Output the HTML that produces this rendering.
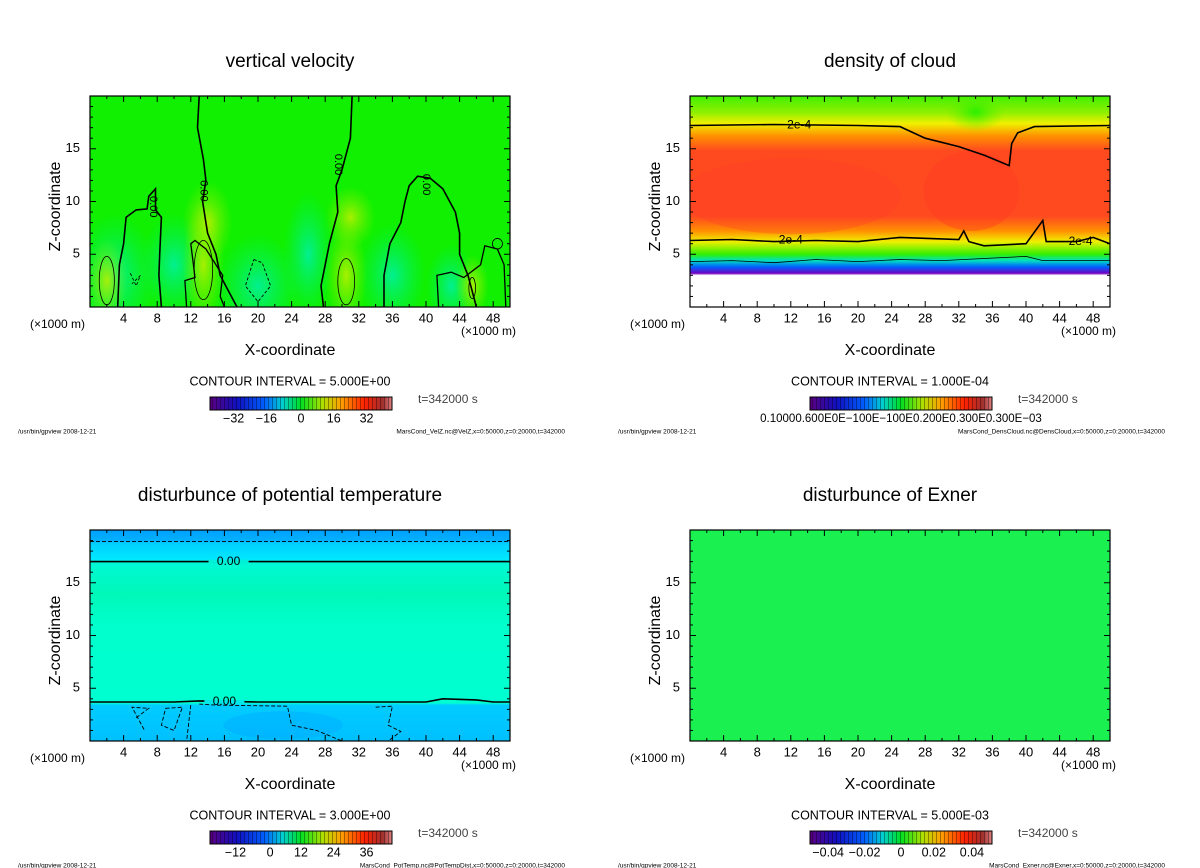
<!DOCTYPE html>
<html><head><meta charset="utf-8"><style>
html,body{margin:0;padding:0;background:#fff;width:1200px;height:868px;overflow:hidden}
svg{display:block;font-family:"Liberation Sans",sans-serif}
</style></head><body>
<svg id="fig" width="1200" height="868" viewBox="0 0 1200 868">
<defs>
<linearGradient id="cbar" x1="0" x2="1" y1="0" y2="0">
<stop offset="0" stop-color="#5a0080"/><stop offset="0.15" stop-color="#1010c0"/><stop offset="0.3" stop-color="#0060ff"/><stop offset="0.4" stop-color="#00d0d0"/><stop offset="0.5" stop-color="#00e020"/><stop offset="0.62" stop-color="#b0e000"/><stop offset="0.72" stop-color="#ffa000"/><stop offset="0.85" stop-color="#ff2000"/><stop offset="0.95" stop-color="#a03030"/><stop offset="1" stop-color="#e08080"/>
</linearGradient>
<pattern id="stripes" width="4" height="20" patternUnits="userSpaceOnUse"><rect x="0" y="0" width="1" height="20" fill="rgba(0,0,0,0.35)"/></pattern>
<linearGradient id="dens" x1="0" x2="0" y1="0" y2="1">
<stop offset="0" stop-color="#40f000"/><stop offset="0.08" stop-color="#90f000"/><stop offset="0.13" stop-color="#f0f000"/><stop offset="0.19" stop-color="#ff9000"/><stop offset="0.26" stop-color="#ff4a20"/><stop offset="0.57" stop-color="#ff4a20"/><stop offset="0.64" stop-color="#ff9000"/><stop offset="0.69" stop-color="#f0f000"/><stop offset="0.75" stop-color="#30f000"/><stop offset="0.78" stop-color="#00e0c0"/><stop offset="0.81" stop-color="#0060ff"/><stop offset="0.84" stop-color="#7000c0"/><stop offset="0.85" stop-color="#ffffff"/><stop offset="1" stop-color="#ffffff"/>
</linearGradient>
<linearGradient id="ptemp" x1="0" x2="0" y1="0" y2="1">
<stop offset="0" stop-color="#00a0ff"/><stop offset="0.05" stop-color="#00b0ff"/><stop offset="0.065" stop-color="#00d0ff"/><stop offset="0.14" stop-color="#00e8ff"/><stop offset="0.15" stop-color="#00f8d8"/><stop offset="0.3" stop-color="#00f8b8"/><stop offset="0.45" stop-color="#00ffcc"/><stop offset="0.82" stop-color="#00ffd0"/><stop offset="0.83" stop-color="#00ccff"/><stop offset="1" stop-color="#00c0ff"/>
</linearGradient>
<radialGradient id="yel"><stop offset="0" stop-color="#b8f000" stop-opacity="0.9"/><stop offset="1" stop-color="#80f000" stop-opacity="0"/></radialGradient>
<radialGradient id="cya"><stop offset="0" stop-color="#00f0a0" stop-opacity="0.9"/><stop offset="1" stop-color="#00f060" stop-opacity="0"/></radialGradient>
<radialGradient id="grn"><stop offset="0" stop-color="#20f000" stop-opacity="0.9"/><stop offset="1" stop-color="#60f000" stop-opacity="0"/></radialGradient>
<clipPath id="c0"><rect x="90" y="96" width="420" height="211"/></clipPath>
<clipPath id="c1"><rect x="690" y="96" width="420" height="211"/></clipPath>
<clipPath id="c2"><rect x="90" y="530" width="420" height="211"/></clipPath>
<clipPath id="c3"><rect x="690" y="530" width="420" height="211"/></clipPath>
</defs>
</svg>
<script>
const xTicks=[4,8,12,16,20,24,28,32,36,40,44,48];
const zTicks=[5,10,15];
const titles=["vertical velocity","density of cloud","disturbunce of potential temperature","disturbunce of Exner"];
const intervals=["5.000E+00","1.000E-04","3.000E+00","5.000E-03"];
const files=["MarsCond_VelZ.nc@VelZ","MarsCond_DensCloud.nc@DensCloud","MarsCond_PotTemp.nc@PotTempDist","MarsCond_Exner.nc@Exner"];
const cbLabels=[["-32","-16","0","16","32"],["0.10000.600E0E-100E-100E0.200E0.300E0.300E-03"],["-12","0","12","24","36"],["-0.04","-0.02","0","0.02","0.04"]];
const cbLabelPos=[[0.13,0.31,0.5,0.68,0.86],[0.5],[0.14,0.33,0.5,0.68,0.86],[0.1,0.3,0.5,0.68,0.89]];
const velLines=[
 [[13,20],[12.8,17],[13.5,14],[13.8,12],[13.4,10],[14,7],[15,5],[15.5,3],[16.5,1.5],[17.5,0]],
 [[31.2,20],[31,16],[30,13],[29.3,11.5],[29.5,9],[28.5,6],[28,4],[27.5,2],[27.8,0]],
 [[8.5,0],[8.2,3],[8.3,5],[8.5,8.5],[7.8,9.2],[7.8,11.2],[7,10.5],[6.8,9.3],[5.5,9.2],[4.3,8.5],[4,6],[3.5,4],[3.3,0]],
 [[35,0],[35,3],[35.7,6],[37,8],[37.5,10],[38,11.5],[39,12.4],[40.5,12.2],[42,11.2],[43.5,9],[44,7],[44,5],[45,3],[46,0]],
 [[11.5,0],[11.3,2.5],[12.5,2.8],[12,6],[12.5,6.3],[13.8,5.5],[15.8,3],[15.5,1],[16,0]],
 [[41.5,0],[41.3,3],[43,3.3],[44.5,2.8],[46.5,4],[47,5.8],[48.5,5.5],[49.3,4],[49.5,0]]
];
const velEll=[[2,2.5,0.9,2.3],[13.5,3.5,1.1,2.8],[30.5,2.4,1,2.2],[45.5,1.8,0.4,1],[48.5,6,0.6,0.5]];
const densUpper=[[0,17.2],[10,17.3],[20,17.2],[25,17.1],[28,16],[32,15.2],[35,14.4],[38,13.4],[38.3,15.5],[39,16.5],[41,17.1],[50,17.2]];
const densLower=[[0,6.3],[5,6.4],[10,6.2],[15,6.3],[20,6.2],[25,6.6],[32,6.4],[32.6,7.2],[33.2,6.2],[35,5.8],[40,6.0],[42,8.2],[42.4,6.2],[46,6.2],[48,6.6],[50,6.0]];
const densThin=[[0,4.3],[5,4.4],[10,4.2],[15,4.5],[20,4.3],[25,4.5],[30,4.4],[35,4.6],[40,4.8],[42,4.4],[50,4.4]];
const tempLower=[[0,3.7],[10,3.7],[13,3.8],[20,3.7],[30,3.7],[40,3.7],[42,4.0],[46,3.9],[48,3.7],[50,3.7]];
const tempDash=[[13,3.5],[15,3.4],[23.5,3.3],[24,1.5],[27,1],[30,0]];

const svg=document.getElementById('fig');
const NS='http://www.w3.org/2000/svg';
function mk(tag,attrs,parent){const e=document.createElementNS(NS,tag);for(const k in attrs)e.setAttribute(k,attrs[k]);(parent||svg).appendChild(e);return e;}
function txt(s,x,y,size,anchor,parent){const t=mk('text',{x:x,y:y,'font-size':size,'text-anchor':anchor||'middle','dominant-baseline':'middle',fill:'#000'},parent);t.textContent=s;return t;}
const W=420,H=211;
const origins=[[90,96],[690,96],[90,530],[690,530]];

origins.forEach(([x0,y0],i)=>{
 const sx=x=>x0+x/50*W, sz=z=>y0+H-z/20*H;
 const g=mk('g',{});
 
 
 const f=mk('g',{'clip-path':'url(#c'+i+')'},g);
 
 
 const pts=a=>a.map(p=>sx(p[0]).toFixed(1)+','+sz(p[1]).toFixed(1)).join(' ');
 const line=(a,w,dash)=>{const l=mk('polyline',{points:pts(a),fill:'none',stroke:'#000','stroke-width':w,'stroke-dasharray':dash||'none'},f);return l;};
 if(i===0){
  mk('rect',{x:x0,y:y0,width:W,height:H,fill:'#10f000'},f);
  [[3,3,5,6,'cya'],[20,2,5,5,'cya'],[10,4,4,5,'cya'],[36,3,4,5,'cya'],[26,5,3,6,'cya'],[43,2,3,4,'cya'],
   [2,2.5,2.5,4,'yel'],[13.5,4,2.5,6,'yel'],[30.5,3,2.5,5,'yel'],[45.5,2,2,3,'yel'],[14,8,3,4,'yel'],[31,8.5,3,3,'yel']].forEach(b=>{
   mk('ellipse',{cx:sx(b[0]),cy:sz(b[1]),rx:b[2]*W/50,ry:b[3]*H/20,fill:'url(#'+b[4]+')'},f);});
  velLines.forEach((a,k)=>line(a,k<4?1.6:1.3));
  velEll.forEach(e=>mk('ellipse',{cx:sx(e[0]),cy:sz(e[1]),rx:e[2]*W/50,ry:e[3]*H/20,fill:'none',stroke:'#000','stroke-width':0.8},f));
  line([[4.8,3.2],[5.5,2],[6,3],[5,2.2]],0.8,'3,2');
  line([[19.5,4.5],[20.5,4.2],[21.5,2],[20,0.5],[18.5,2],[19.5,4.5]],0.9,'3,2');
  [[7.5,9.5],[13.5,11],[29.5,13.5],[40,11.6]].forEach(p=>{const t=txt('0.00',sx(p[0]),sz(p[1]),11,'middle',f);t.setAttribute('transform','rotate(90 '+sx(p[0])+' '+sz(p[1])+')');});
 } else if(i===1){
  mk('rect',{x:x0,y:y0,width:W,height:H,fill:'url(#dens)'},f);
  mk('ellipse',{cx:sx(34),cy:sz(18.5),rx:30,ry:20,fill:'url(#grn)'},f);
  mk('ellipse',{cx:sx(33.5),cy:sz(11),rx:48,ry:40,fill:'#ff3a20',opacity:0.4},f);
  mk('ellipse',{cx:sx(12),cy:sz(10.5),rx:110,ry:38,fill:'#ff3c28',opacity:0.3},f);
  line(densUpper,1.6); line(densLower,1.6); line(densThin,0.8);
  [[13,17.2],[46.5,6.2],[12,6.3]].forEach(p=>{const t=txt('2e-4',sx(p[0]),sz(p[1]),12,'middle',f);});
 } else if(i===2){
  mk('rect',{x:x0,y:y0,width:W,height:H,fill:'url(#ptemp)'},f);
  mk('ellipse',{cx:sx(23),cy:sz(1.5),rx:60,ry:14,fill:'#00a8ff',opacity:0.4},f);
  line([[0,18.9],[50,18.9]],0.9,'4,2');
  line([[0,17],[50,17]],1.6);
  line(tempLower,1.6);
  line(tempDash,0.9,'4,2');
  line([[5.5,2.2],[7,3.1],[5,3.2],[6.5,1]],0.9,'4,2');
  line([[9,3.1],[11,3.2],[10,1],[8.5,1.5],[9,3.1]],0.9,'4,2');
  line([[12,3.4],[11.5,0]],0.9,'4,2');
  line([[34,3.2],[36,3.3],[35.5,1.5],[37,0.9],[35.5,0]],0.9,'4,2');
  [[16.5,17,'#00f0d8'],[16,3.7,'#00e8e8']].forEach(p=>{mk('rect',{x:sx(p[0])-20,y:sz(p[1])-2,width:40,height:4,fill:p[2]},f);const t=txt('0.00',sx(p[0]),sz(p[1]),12,'middle',f);});
 } else {
  mk('rect',{x:x0,y:y0,width:W,height:H,fill:'#1af050'},f);
 }
 const fr=mk('rect',{x:x0,y:y0,width:W,height:H,fill:'none',stroke:'#000','stroke-width':1.2},g);
 
 for(let x=2;x<50;x+=2){const L=x%4===0?6:3;mk('line',{x1:sx(x),x2:sx(x),y1:y0+H,y2:y0+H-L,stroke:'#000'},g);mk('line',{x1:sx(x),x2:sx(x),y1:y0,y2:y0+L,stroke:'#000'},g);}
 for(let z=1;z<20;z++){const L=z%5===0?6:3;mk('line',{x1:x0,x2:x0+L,y1:sz(z),y2:sz(z),stroke:'#000'},g);mk('line',{x1:x0+W,x2:x0+W-L,y1:sz(z),y2:sz(z),stroke:'#000'},g);}
 xTicks.forEach(v=>{const t=txt(String(v),sx(v),y0+H+12,13,'middle',g);});
 zTicks.forEach(v=>{const t=txt(String(v),x0-10,sz(v),13,'end',g);});
 let t=txt('(×1000 m)',x0-60,y0+H+18,12,'start',g);
 t=txt('(×1000 m)',x0+W+6,y0+H+25,12,'end',g);
 t=txt('X-coordinate',x0+W/2-10,y0+H+44,16,'middle',g);
 t=txt('Z-coordinate',0,0,16,'middle',g);t.setAttribute('transform','translate('+(x0-34)+','+(y0+H/2+5)+') rotate(-90)');
 t=txt(titles[i],x0+W/2-10,y0-34,19,'middle',g);
 t=txt('CONTOUR INTERVAL = '+intervals[i],x0+W/2-10,y0+H+75,12.5,'middle',g);
 const cx=x0+120,cw=182,cy=y0+H+90;
 const cb=mk('rect',{x:cx,y:cy,width:cw,height:13,fill:'url(#cbar)',stroke:'#000'},g);
 
 mk('rect',{x:cx,y:cy,width:cw,height:13,fill:'url(#stripes)'},g);
 cbLabels[i].forEach((s,k)=>{const tt=txt(s.replace(/-/g,'−'),cx+cbLabelPos[i][k]*cw,cy+22,i===1?11.5:12.5,'middle',g);});
 t=txt('t=342000 s',x0+328,y0+H+93,12,'start',g);t.setAttribute('fill','#444');
 t=txt('/usr/bin/gpview   2008-12-21',x0-72,y0+H+125,6.5,'start',g);
 t=txt(files[i]+',x=0:50000,z=0:20000,t=342000',x0+W+55,y0+H+125,6.5,'end',g);
});
</script>
</body></html>
